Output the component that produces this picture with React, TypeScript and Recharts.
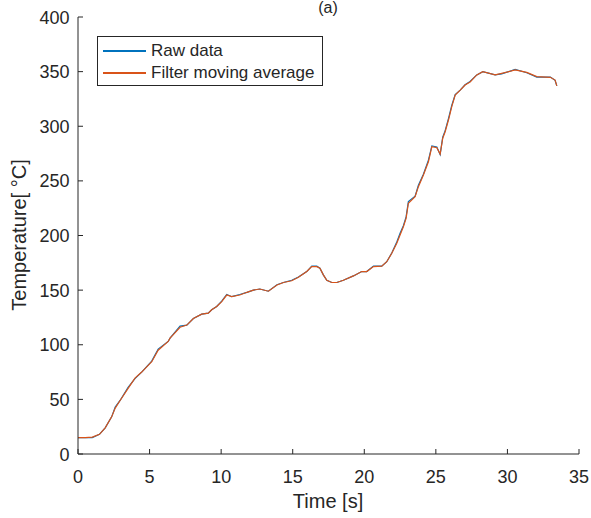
import React from 'react'
import { LineChart, Line, XAxis, YAxis, Legend } from 'recharts'

const FONT = '"Liberation Sans", Arial, sans-serif'
const AXIS = '#262626'
const BLUE = '#0072BD'
const ORANGE = '#D95319'

// time [s]
const timeS = [
  0, 0.5, 1.0, 1.5, 1.9, 2.35, 2.6, 2.94, 3.5, 3.98, 4.45, 5.15, 5.6, 6.3, 6.43, 7.13, 7.6, 8.06, 8.64, 9.1,
  9.34, 9.69, 10.04, 10.39, 10.74, 11.3, 11.8, 12.25, 12.7, 13.3, 13.9, 14.35, 14.93, 15.4, 15.98, 16.33, 16.68, 16.9, 17.14, 17.38,
  17.73, 18.08, 18.54, 19.24, 19.82, 20.17, 20.64, 21.22, 21.57, 21.92, 22.27, 22.5, 22.73, 22.92, 23.08, 23.55, 23.78, 24.13, 24.48, 24.72,
  25.07, 25.3, 25.48, 25.65, 25.88, 26.11, 26.35, 26.7, 27.04, 27.39, 27.86, 28.28, 29.14, 29.6, 30.54, 31.35, 32.05, 33.0, 33.33, 33.45,
]

// raw sensor reading
const rawTemp = [
  15, 15, 15, 18, 24, 34, 43, 49, 61, 69, 75, 85, 96, 103, 106, 117, 118, 124, 128, 129,
  132, 135, 140, 146, 144, 146, 148, 150, 151, 149, 155, 157, 159, 162, 167, 172, 172, 170, 164, 159,
  157, 157, 159, 163, 167, 167, 172, 172, 176, 184, 194, 202, 209, 217, 231, 236, 246, 256, 269, 282,
  281, 274, 290, 296, 307, 319, 329, 333, 338, 341, 347, 350, 347, 348, 352, 349, 345, 345, 342, 337,
]

// moving average filter
const filtTemp = [
  15, 15, 15.5, 18, 24, 34, 42, 49, 60, 69.5, 75, 84.5, 95, 103, 106, 116, 118, 124, 128, 129,
  132, 135, 139.5, 145.5, 144, 145.5, 148, 150, 151, 149, 154.7, 157, 158.6, 161.7, 167, 171.5, 171.5, 170, 164, 159,
  157, 157, 159, 163, 167, 167, 171.5, 172, 176, 183.7, 193, 200.5, 208, 215.7, 229.5, 235.5, 244.7, 255.4, 267.5, 281.3,
  280.4, 274.6, 289, 295, 305.7, 318, 328.6, 333, 337.7, 340.5, 347, 350, 347, 348.4, 351.5, 349.3, 345.4, 344.8, 342.3, 337,
]

const xTicks = [0, 5, 10, 15, 20, 25, 30, 35]
const yTicks = [0, 50, 100, 150, 200, 250, 300, 350, 400]

const data = timeS.map((t, i) => ({ t, raw: rawTemp[i], filt: filtTemp[i] }))

const TICK = 5

function BottomTick({ x, y, payload }: any) {
  return (
    <g>
      <line x1={x} y1={y} x2={x} y2={y - TICK} stroke={AXIS} />
      <text x={x} y={y + 29} textAnchor="middle" fontSize={18} fill={AXIS} fontFamily={FONT}>
        {payload.value}
      </text>
    </g>
  )
}

function TopTick({ x, y }: any) {
  return <line x1={x} y1={y} x2={x} y2={y + TICK} stroke={AXIS} />
}

function LeftTick({ x, y, payload }: any) {
  return (
    <g>
      <line x1={x} y1={y} x2={x + TICK} y2={y} stroke={AXIS} />
      <text x={x - 8.5} y={y + 6.5} textAnchor="end" fontSize={18} fill={AXIS} fontFamily={FONT}>
        {payload.value}
      </text>
    </g>
  )
}

function RightTick({ x, y }: any) {
  return <line x1={x} y1={y} x2={x - TICK} y2={y} stroke={AXIS} />
}

function LegendBox() {
  const rows = [
    { name: 'Raw data', color: BLUE },
    { name: 'Filter moving average', color: ORANGE },
  ]
  return (
    <div
      style={{
        width: 224,
        height: 48,
        border: `1px solid ${AXIS}`,
        background: '#fff',
        fontFamily: FONT,
        fontSize: 17,
        color: AXIS,
        position: 'relative',
      }}
    >
      {rows.map((r, i) => (
        <div
          key={r.name}
          style={{ position: 'absolute', left: 0, top: 3 + i * 22, height: 22, display: 'flex', alignItems: 'center' }}
        >
          <div style={{ marginLeft: 5, width: 43, height: 1.3, background: r.color }} />
          <span style={{ marginLeft: 5, whiteSpace: 'nowrap' }}>{r.name}</span>
        </div>
      ))}
    </div>
  )
}

export default function App() {
  return (
    <div style={{ position: 'absolute', left: 0, top: 0, width: 591, height: 518, background: '#fff' }}>
      <LineChart width={591} height={518} data={data} margin={{ top: 17, right: 12, bottom: 0, left: 0 }}>
        <XAxis
          dataKey="t"
          type="number"
          domain={[0, 35]}
          ticks={xTicks}
          height={64}
          tickSize={0}
          tickMargin={0}
          tickLine={false}
          tick={BottomTick}
          axisLine={{ stroke: AXIS }}
          allowDataOverflow
          label={{
            content: () => (
              <g>
                <text x={328} y={508} textAnchor="middle" fontSize={20} fill={AXIS} fontFamily={FONT}>
                  Time [s]
                </text>
                <text x={328} y={13} textAnchor="middle" fontSize={16} fill={AXIS} fontFamily={FONT}>
                  (a)
                </text>
              </g>
            ),
          }}
        />
        <XAxis
          xAxisId="top"
          orientation="top"
          type="number"
          domain={[0, 35]}
          ticks={xTicks}
          height={0}
          tickSize={0}
          tickMargin={0}
          tickLine={false}
          tick={TopTick}
          axisLine={{ stroke: AXIS }}
        />
        <YAxis
          type="number"
          domain={[0, 400]}
          ticks={yTicks}
          width={78}
          tickSize={0}
          tickMargin={0}
          tickLine={false}
          tick={LeftTick}
          axisLine={{ stroke: AXIS }}
          label={{
            content: () => (
              <text
                x={26}
                y={235}
                transform="rotate(-90 26 235)"
                textAnchor="middle"
                fontSize={20}
                fill={AXIS}
                fontFamily={FONT}
              >
                Temperature[ °C]
              </text>
            ),
          }}
        />
        <YAxis
          yAxisId="right"
          orientation="right"
          type="number"
          domain={[0, 400]}
          ticks={yTicks}
          width={0}
          tickSize={0}
          tickMargin={0}
          tickLine={false}
          tick={RightTick}
          axisLine={{ stroke: AXIS }}
        />
        <Legend
          layout="vertical"
          align="center"
          verticalAlign="middle"
          content={() => <LegendBox />}
          wrapperStyle={{ left: 97, top: 36, width: 'auto', height: 'auto' }}
        />
        <Line
          type="linear"
          dataKey="raw"
          name="Raw data"
          stroke={BLUE}
          strokeWidth={1.2}
          dot={false}
          isAnimationActive={false}
        />
        <Line
          type="linear"
          dataKey="filt"
          name="Filter moving average"
          stroke={ORANGE}
          strokeWidth={1.2}
          dot={false}
          isAnimationActive={false}
        />
      </LineChart>
    </div>
  )
}
